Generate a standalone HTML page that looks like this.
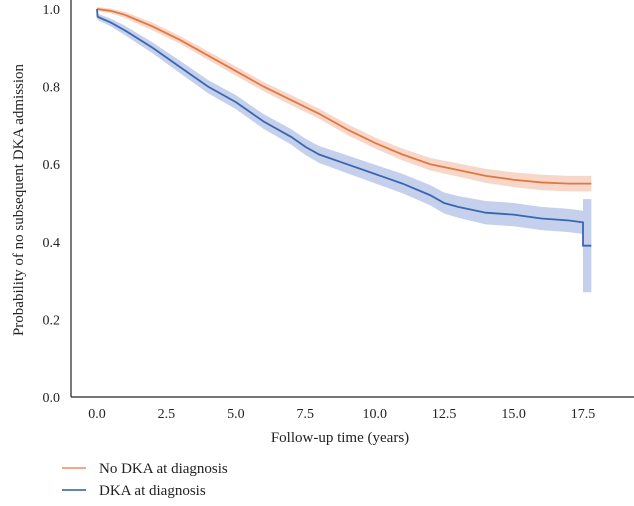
<!DOCTYPE html>
<html><head><meta charset="utf-8"><style>
body{margin:0;background:#fff;}
text{font-family:"Liberation Serif",serif;fill:#222;}
</style></head><body>
<svg width="634" height="501">
<g id="plot"></g>
<line x1="71" y1="0" x2="71" y2="397" stroke="#222" stroke-width="1.2"/>
<line x1="71" y1="397" x2="634" y2="397" stroke="#222" stroke-width="1.2"/>
<g id="ticks"></g>
<text x="340" y="442" font-size="15" text-anchor="middle">Follow-up time (years)</text>
<text transform="translate(23,200) rotate(-90)" font-size="15" text-anchor="middle">Probability of no subsequent DKA admission</text>
<g>
<line x1="62" y1="468" x2="86" y2="468" stroke="#f08a5d" stroke-width="1.5"/>
<text x="99" y="473" font-size="15">No DKA at diagnosis</text>
<line x1="62" y1="490" x2="86" y2="490" stroke="#2a5f9e" stroke-width="1.5"/>
<text x="99" y="495" font-size="15">DKA at diagnosis</text>
</g>
</svg>
<script>
const xTicks=[0,2.5,5,7.5,10,12.5,15,17.5];
const yTicks=[0,0.2,0.4,0.6,0.8,1.0];
const orangeT=[0,0.5,1,2,3,4,5,6,7,8,9,10,11,12,13,14,15,16,17,17.8];
const orangeS=[1.0,0.995,0.985,0.955,0.92,0.88,0.84,0.8,0.765,0.73,0.69,0.655,0.625,0.6,0.585,0.57,0.56,0.553,0.55,0.55];
const orangeW=[0.005,0.006,0.008,0.01,0.01,0.011,0.012,0.012,0.013,0.013,0.014,0.014,0.015,0.016,0.017,0.018,0.019,0.02,0.02,0.02];
const blueT=[0,0.02,0.5,1,2,3,4,5,6,7,7.5,8,9,10,11,12,12.5,13,14,15,16,17,17.5,17.5,17.8];
const blueS=[1.0,0.98,0.965,0.945,0.9,0.85,0.8,0.76,0.71,0.67,0.645,0.625,0.6,0.575,0.55,0.52,0.5,0.49,0.475,0.47,0.46,0.455,0.45,0.39,0.39];
const blueW=[0.005,0.008,0.01,0.012,0.014,0.016,0.017,0.018,0.019,0.02,0.021,0.022,0.023,0.024,0.025,0.026,0.027,0.028,0.03,0.03,0.03,0.03,0.03,0.12,0.12];
const X=t=>97+t*(583-97)/17.5;
const Y=v=>397-v*388;
const NS="http://www.w3.org/2000/svg";
const plot=document.getElementById('plot'), ticks=document.getElementById('ticks');
function mk(tag,attrs,parent){const e=document.createElementNS(NS,tag);for(const k in attrs)e.setAttribute(k,attrs[k]);parent.appendChild(e);return e;}
function pts(T,S,off){return T.map((t,i)=>[X(t),Y(S[i]+off(i))]);}
function series(T,S,W,col,band,name){
  const up=pts(T,S,i=>W[i]), lo=pts(T,S,i=>-W[i]).reverse();
  const b=mk('polygon',{points:up.concat(lo).map(p=>p.join(',')).join(' '),fill:band},plot);
  
  
  const l=mk('polyline',{points:pts(T,S,()=>0).map(p=>p.join(',')).join(' '),fill:'none',stroke:col,'stroke-width':1.8},plot);
  
  
}
series(orangeT,orangeS,orangeW,'#e2783f','rgba(232,140,100,0.35)','no-dka');
series(blueT,blueS,blueW,'#3b66b0','rgba(90,120,200,0.35)','dka');
xTicks.forEach(t=>{const e=mk('text',{x:X(t),y:418,'font-size':14,'text-anchor':'middle'},ticks);e.textContent=t.toFixed(1);
  
  });
yTicks.forEach(v=>{const e=mk('text',{x:60,y:Y(v)+5,'font-size':14,'text-anchor':'end'},ticks);e.textContent=v.toFixed(1);
  
  });
</script>
</body></html>
